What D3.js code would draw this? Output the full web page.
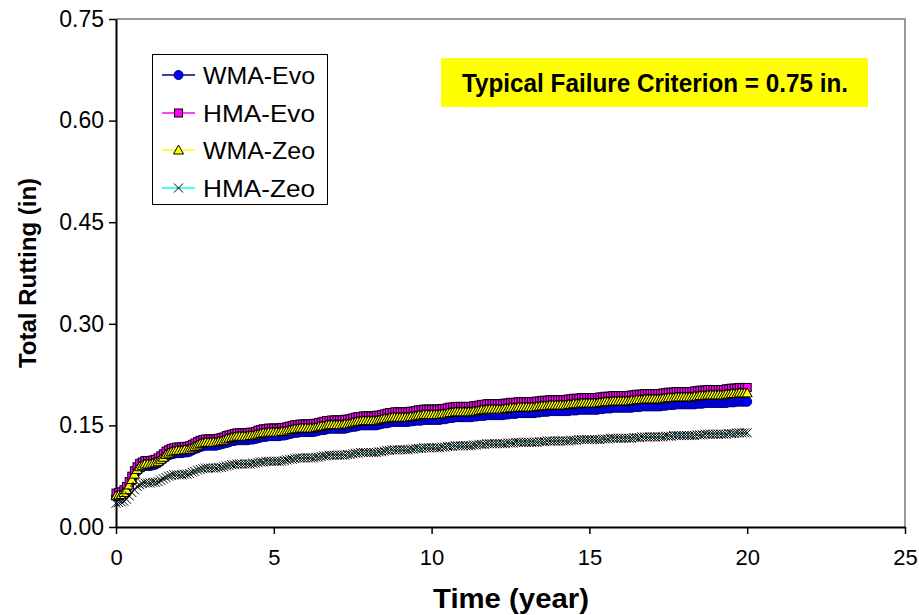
<!DOCTYPE html>
<html>
<head>
<meta charset="utf-8">
<script src="https://cdn.jsdelivr.net/npm/d3@7"></script>
<style>
  html, body { margin: 0; padding: 0; background: #fff; }
  svg { display: block; font-family: "Liberation Sans", Arial, sans-serif; }
</style>
</head>
<body>
<svg id="chart" width="919" height="615"></svg>
<script>
// Time in months (0 .. 240)
const months = [
  0,
  1,2,3,4,5,6,7,8,9,10,11,12,
  13,14,15,16,17,18,19,20,21,22,23,24,
  25,26,27,28,29,30,31,32,33,34,35,36,
  37,38,39,40,41,42,43,44,45,46,47,48,
  49,50,51,52,53,54,55,56,57,58,59,60,
  61,62,63,64,65,66,67,68,69,70,71,72,
  73,74,75,76,77,78,79,80,81,82,83,84,
  85,86,87,88,89,90,91,92,93,94,95,96,
  97,98,99,100,101,102,103,104,105,106,107,108,
  109,110,111,112,113,114,115,116,117,118,119,120,
  121,122,123,124,125,126,127,128,129,130,131,132,
  133,134,135,136,137,138,139,140,141,142,143,144,
  145,146,147,148,149,150,151,152,153,154,155,156,
  157,158,159,160,161,162,163,164,165,166,167,168,
  169,170,171,172,173,174,175,176,177,178,179,180,
  181,182,183,184,185,186,187,188,189,190,191,192,
  193,194,195,196,197,198,199,200,201,202,203,204,
  205,206,207,208,209,210,211,212,213,214,215,216,
  217,218,219,220,221,222,223,224,225,226,227,228,
  229,230,231,232,233,234,235,236,237,238,239,240
];

const wmaEvo = [
  0.045,
  0.046,0.047,0.050,0.054,0.061,0.068,0.076,0.082,0.086,0.088,0.090,0.090,
  0.090,0.091,0.092,0.094,0.097,0.100,0.103,0.106,0.107,0.108,0.109,0.109,
  0.109,0.110,0.110,0.111,0.113,0.115,0.116,0.118,0.119,0.120,0.120,0.120,
  0.120,0.120,0.121,0.122,0.123,0.124,0.125,0.127,0.127,0.128,0.128,0.128,
  0.128,0.128,0.129,0.129,0.130,0.131,0.132,0.133,0.133,0.134,0.134,0.134,
  0.134,0.134,0.135,0.135,0.136,0.137,0.138,0.139,0.139,0.140,0.140,0.140,
  0.140,0.140,0.140,0.141,0.142,0.143,0.143,0.144,0.145,0.145,0.145,0.145,
  0.145,0.145,0.145,0.146,0.147,0.148,0.148,0.149,0.150,0.150,0.150,0.150,
  0.150,0.150,0.150,0.151,0.152,0.153,0.153,0.154,0.155,0.155,0.155,0.155,
  0.155,0.155,0.155,0.156,0.156,0.157,0.157,0.157,0.158,0.158,0.158,0.158,
  0.158,0.158,0.158,0.159,0.159,0.160,0.161,0.161,0.162,0.162,0.162,0.162,
  0.162,0.162,0.162,0.163,0.163,0.164,0.164,0.164,0.165,0.165,0.165,0.165,
  0.165,0.165,0.165,0.166,0.166,0.167,0.167,0.167,0.168,0.168,0.168,0.168,
  0.168,0.168,0.168,0.169,0.169,0.170,0.170,0.170,0.171,0.171,0.171,0.171,
  0.171,0.171,0.171,0.171,0.172,0.172,0.172,0.173,0.173,0.173,0.173,0.173,
  0.173,0.173,0.173,0.174,0.174,0.175,0.175,0.175,0.176,0.176,0.176,0.176,
  0.176,0.176,0.176,0.176,0.177,0.177,0.177,0.178,0.178,0.178,0.178,0.178,
  0.178,0.178,0.178,0.179,0.179,0.180,0.180,0.180,0.181,0.181,0.181,0.181,
  0.181,0.181,0.181,0.181,0.182,0.182,0.182,0.183,0.183,0.183,0.183,0.183,
  0.183,0.183,0.183,0.183,0.184,0.184,0.184,0.185,0.185,0.185,0.185,0.185
];

const hmaEvo = [
  0.050,
  0.051,0.052,0.055,0.060,0.067,0.075,0.083,0.089,0.094,0.096,0.098,0.098,
  0.098,0.099,0.100,0.102,0.105,0.108,0.112,0.114,0.116,0.117,0.118,0.118,
  0.118,0.119,0.119,0.120,0.122,0.124,0.126,0.128,0.129,0.130,0.130,0.130,
  0.130,0.130,0.131,0.132,0.133,0.135,0.136,0.137,0.138,0.139,0.139,0.139,
  0.139,0.139,0.140,0.140,0.141,0.143,0.144,0.145,0.145,0.146,0.146,0.146,
  0.146,0.146,0.147,0.147,0.148,0.149,0.150,0.151,0.151,0.152,0.152,0.152,
  0.152,0.152,0.153,0.153,0.154,0.155,0.156,0.157,0.157,0.158,0.158,0.158,
  0.158,0.158,0.159,0.159,0.160,0.161,0.162,0.163,0.163,0.164,0.164,0.164,
  0.164,0.164,0.165,0.165,0.166,0.167,0.168,0.169,0.169,0.170,0.170,0.170,
  0.170,0.170,0.170,0.171,0.171,0.172,0.173,0.173,0.174,0.174,0.174,0.174,
  0.174,0.174,0.174,0.175,0.175,0.176,0.177,0.177,0.178,0.178,0.178,0.178,
  0.178,0.178,0.178,0.179,0.179,0.180,0.181,0.181,0.182,0.182,0.182,0.182,
  0.182,0.182,0.182,0.183,0.183,0.184,0.184,0.184,0.185,0.185,0.185,0.185,
  0.185,0.185,0.185,0.186,0.186,0.187,0.187,0.187,0.188,0.188,0.188,0.188,
  0.188,0.188,0.188,0.189,0.189,0.190,0.190,0.190,0.191,0.191,0.191,0.191,
  0.191,0.191,0.191,0.192,0.192,0.193,0.193,0.193,0.194,0.194,0.194,0.194,
  0.194,0.194,0.194,0.195,0.195,0.196,0.196,0.196,0.197,0.197,0.197,0.197,
  0.197,0.197,0.197,0.198,0.198,0.199,0.199,0.199,0.200,0.200,0.200,0.200,
  0.200,0.200,0.200,0.201,0.201,0.202,0.202,0.202,0.203,0.203,0.203,0.203,
  0.203,0.203,0.203,0.204,0.204,0.205,0.205,0.205,0.206,0.206,0.206,0.206
];

const wmaZeo = [
  0.046,
  0.047,0.048,0.051,0.055,0.062,0.070,0.078,0.085,0.089,0.091,0.093,0.093,
  0.093,0.094,0.095,0.097,0.100,0.103,0.107,0.109,0.111,0.112,0.113,0.113,
  0.113,0.114,0.114,0.115,0.117,0.119,0.121,0.123,0.124,0.125,0.125,0.125,
  0.125,0.125,0.126,0.127,0.128,0.130,0.131,0.132,0.133,0.134,0.134,0.134,
  0.134,0.134,0.135,0.135,0.136,0.137,0.138,0.139,0.139,0.140,0.140,0.140,
  0.140,0.140,0.141,0.141,0.142,0.143,0.144,0.145,0.145,0.146,0.146,0.146,
  0.146,0.146,0.146,0.147,0.148,0.149,0.149,0.150,0.151,0.151,0.151,0.151,
  0.151,0.151,0.152,0.152,0.153,0.154,0.155,0.156,0.156,0.157,0.157,0.157,
  0.157,0.157,0.157,0.158,0.159,0.160,0.160,0.161,0.162,0.162,0.162,0.162,
  0.162,0.162,0.162,0.163,0.163,0.164,0.165,0.165,0.166,0.166,0.166,0.166,
  0.166,0.166,0.166,0.167,0.167,0.168,0.169,0.169,0.170,0.170,0.170,0.170,
  0.170,0.170,0.170,0.171,0.171,0.172,0.173,0.173,0.174,0.174,0.174,0.174,
  0.174,0.174,0.174,0.175,0.175,0.176,0.176,0.176,0.177,0.177,0.177,0.177,
  0.177,0.177,0.177,0.178,0.178,0.179,0.179,0.179,0.180,0.180,0.180,0.180,
  0.180,0.180,0.180,0.181,0.181,0.182,0.182,0.182,0.183,0.183,0.183,0.183,
  0.183,0.183,0.183,0.184,0.184,0.185,0.185,0.185,0.186,0.186,0.186,0.186,
  0.186,0.186,0.186,0.187,0.187,0.188,0.188,0.188,0.189,0.189,0.189,0.189,
  0.189,0.189,0.189,0.190,0.190,0.191,0.191,0.191,0.192,0.192,0.192,0.192,
  0.192,0.192,0.192,0.193,0.193,0.194,0.194,0.194,0.195,0.195,0.195,0.195,
  0.195,0.195,0.195,0.196,0.196,0.197,0.197,0.197,0.198,0.198,0.198,0.198
];

const hmaZeo = [
  0.035,
  0.036,0.037,0.038,0.041,0.046,0.051,0.055,0.060,0.062,0.064,0.065,0.065,
  0.065,0.066,0.066,0.067,0.069,0.071,0.073,0.075,0.076,0.077,0.077,0.077,
  0.077,0.078,0.078,0.079,0.081,0.082,0.084,0.085,0.086,0.087,0.087,0.087,
  0.087,0.087,0.088,0.088,0.089,0.090,0.091,0.092,0.092,0.093,0.093,0.093,
  0.093,0.093,0.093,0.094,0.094,0.095,0.096,0.096,0.097,0.097,0.097,0.097,
  0.097,0.097,0.097,0.098,0.099,0.100,0.100,0.101,0.102,0.102,0.102,0.102,
  0.102,0.102,0.102,0.103,0.103,0.104,0.105,0.105,0.106,0.106,0.106,0.106,
  0.106,0.106,0.106,0.107,0.107,0.108,0.109,0.109,0.110,0.110,0.110,0.110,
  0.110,0.110,0.110,0.111,0.111,0.112,0.113,0.113,0.114,0.114,0.114,0.114,
  0.114,0.114,0.114,0.115,0.115,0.116,0.116,0.116,0.117,0.117,0.117,0.117,
  0.117,0.117,0.117,0.118,0.118,0.119,0.119,0.119,0.120,0.120,0.120,0.120,
  0.120,0.120,0.120,0.121,0.121,0.122,0.122,0.122,0.123,0.123,0.123,0.123,
  0.123,0.123,0.123,0.123,0.124,0.124,0.124,0.125,0.125,0.125,0.125,0.125,
  0.125,0.125,0.125,0.125,0.126,0.126,0.126,0.127,0.127,0.127,0.127,0.127,
  0.127,0.127,0.127,0.127,0.128,0.128,0.128,0.129,0.129,0.129,0.129,0.129,
  0.129,0.129,0.129,0.129,0.130,0.130,0.130,0.131,0.131,0.131,0.131,0.131,
  0.131,0.131,0.131,0.131,0.132,0.132,0.132,0.133,0.133,0.133,0.133,0.133,
  0.133,0.133,0.133,0.133,0.134,0.134,0.134,0.135,0.135,0.135,0.135,0.135,
  0.135,0.135,0.135,0.135,0.136,0.136,0.136,0.137,0.137,0.137,0.137,0.137,
  0.137,0.137,0.137,0.137,0.138,0.138,0.138,0.139,0.139,0.139,0.139,0.139
];

const seriesNames = ["WMA-Evo", "HMA-Evo", "WMA-Zeo", "HMA-Zeo"];
const xTicks = [0, 5, 10, 15, 20, 25];
const yTicks = [0.00, 0.15, 0.30, 0.45, 0.60, 0.75];
const xTitle = "Time (year)";
const yTitle = "Total Rutting (in)";
const noteText = "Typical Failure Criterion = 0.75 in.";

const styles = {
  "WMA-Evo": { line: "#000080", fill: "#0000FF", stroke: "#000080", shape: "circle" },
  "HMA-Evo": { line: "#FF00FF", fill: "#FF00FF", stroke: "#000000", shape: "square" },
  "WMA-Zeo": { line: "#FFFF00", fill: "#FFFF00", stroke: "#000000", shape: "triangle" },
  "HMA-Zeo": { line: "#00FFFF", fill: "none", stroke: "#000000", shape: "cross" }
};
const seriesValues = { "WMA-Evo": wmaEvo, "HMA-Evo": hmaEvo, "WMA-Zeo": wmaZeo, "HMA-Zeo": hmaZeo };

const svg = d3.select("#chart");
const mLeft = 116, mRight = 905, mTop = 19, mBottom = 527;

const x = d3.scaleLinear().domain([0, 25]).range([mLeft, mRight]);
const y = d3.scaleLinear().domain([0, 0.75]).range([mBottom, mTop]);

// plot border (top & right, gray)
svg.append("path")
  .attr("d", `M${mLeft},${mTop}H${mRight}V${mBottom}`)
  .attr("fill", "none").attr("stroke", "#9a9a9a").attr("stroke-width", 2);

// axes
const xAxis = d3.axisBottom(x).tickValues(xTicks).tickSize(7).tickSizeOuter(0).tickPadding(15)
  .tickFormat(d3.format("d"));
const gx = svg.append("g").attr("transform", `translate(0,${mBottom})`).call(xAxis);
gx.select(".domain").attr("stroke", "#000").attr("stroke-width", 2);
gx.selectAll(".tick line").attr("stroke", "#000").attr("stroke-width", 1.5);
gx.selectAll(".tick text").attr("font-size", 22).attr("fill", "#000")
  .attr("font-family", "'Liberation Sans', Arial, sans-serif");

const yAxis = d3.axisLeft(y).tickValues(yTicks).tickSize(7).tickSizeOuter(0).tickPadding(5)
  .tickFormat(d3.format(".2f"));
const gy = svg.append("g").attr("transform", `translate(${mLeft},0)`).call(yAxis);
gy.select(".domain").attr("stroke", "#000").attr("stroke-width", 2);
gy.selectAll(".tick line").attr("stroke", "#000").attr("stroke-width", 1.5);
gy.selectAll(".tick text").attr("font-size", 23).attr("fill", "#000")
  .attr("font-family", "'Liberation Sans', Arial, sans-serif");

// titles
svg.append("text").attr("x", 511).attr("y", 608)
  .attr("text-anchor", "middle").attr("font-size", 27).attr("font-weight", "bold")
  .attr("textLength", 156).attr("lengthAdjust", "spacingAndGlyphs")
  .text(xTitle);
svg.append("text").attr("transform", `translate(36,${(mTop + mBottom) / 2}) rotate(-90)`)
  .attr("text-anchor", "middle").attr("font-size", 24).attr("font-weight", "bold")
  .text(yTitle);

// marker drawer
function drawMarker(g, shape, cx, cy, st) {
  if (shape === "circle") {
    g.append("circle").attr("cx", cx).attr("cy", cy).attr("r", 4.5)
      .attr("fill", st.fill).attr("stroke", st.stroke).attr("stroke-width", 1);
  } else if (shape === "square") {
    g.append("rect").attr("x", cx - 4).attr("y", cy - 4).attr("width", 8).attr("height", 8)
      .attr("fill", st.fill).attr("stroke", st.stroke).attr("stroke-width", 1);
  } else if (shape === "triangle") {
    g.append("path").attr("d", `M${cx},${cy - 5}L${cx + 5},${cy + 4}L${cx - 5},${cy + 4}Z`)
      .attr("fill", st.fill).attr("stroke", st.stroke).attr("stroke-width", 1);
  } else {
    g.append("path").attr("d", `M${cx - 4.5},${cy - 4.5}L${cx + 4.5},${cy + 4.5}M${cx - 4.5},${cy + 4.5}L${cx + 4.5},${cy - 4.5}`)
      .attr("fill", "none").attr("stroke", st.stroke).attr("stroke-width", 1);
  }
}

// series
const line = d3.line().x(d => x(d[0] / 12)).y(d => y(d[1]));
seriesNames.forEach(name => {
  const st = styles[name];
  const pts = months.map((m, i) => [m, seriesValues[name][i]]);
  const g = svg.append("g").attr("class", "series");
  g.append("path").datum(pts).attr("d", line)
    .attr("fill", "none").attr("stroke", st.line).attr("stroke-width", 1);
  pts.forEach(p => drawMarker(g, st.shape, x(p[0] / 12), y(p[1]), st));
});

// legend
const lg = svg.append("g");
lg.append("rect").attr("x", 152.5).attr("y", 54.5).attr("width", 175).attr("height", 150)
  .attr("fill", "#fff").attr("stroke", "#000").attr("stroke-width", 1);
const rowY = [75, 113, 150, 188];
seriesNames.forEach((name, i) => {
  const st = styles[name];
  lg.append("line").attr("x1", 162).attr("x2", 195).attr("y1", rowY[i]).attr("y2", rowY[i])
    .attr("stroke", st.line).attr("stroke-width", 1.5);
  drawMarker(lg, st.shape, 178.5, rowY[i], st);
  lg.append("text").attr("x", 203).attr("y", rowY[i] + 8.5).attr("font-size", 24)
    .attr("fill", "#000").attr("textLength", 112).attr("lengthAdjust", "spacingAndGlyphs")
    .text(name);
});

// note box
svg.append("rect").attr("x", 441).attr("y", 58).attr("width", 427).attr("height", 49)
  .attr("fill", "#FFFF00");
svg.append("text").attr("x", 655).attr("y", 92).attr("text-anchor", "middle")
  .attr("font-size", 26).attr("font-weight", "bold").attr("fill", "#000")
  .attr("textLength", 386).attr("lengthAdjust", "spacingAndGlyphs")
  .text(noteText);
</script>
</body>
</html>
